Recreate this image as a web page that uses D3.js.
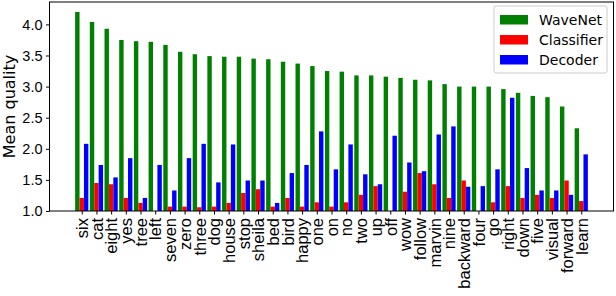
<!DOCTYPE html>
<html>
<head>
<meta charset="utf-8">
<script src="https://cdn.jsdelivr.net/npm/d3@7"></script>
<style>
  body { margin: 0; background: #fff; }
  svg { font-family: "DejaVu Sans", sans-serif; }
</style>
</head>
<body>
<div id="chart"></div>
<script>
// words, sorted by WaveNet quality
var words = ["six", "cat", "eight", "yes", "tree", "left", "seven", "zero", "three", "dog",
  "house", "stop", "sheila", "bed", "bird", "happy", "one", "on", "no", "two",
  "up", "off", "wow", "follow", "marvin", "nine", "backward", "four", "go", "right",
  "down", "five", "visual", "forward", "learn"];

var wavenet = [4.20, 4.04, 3.93, 3.75, 3.73, 3.72, 3.67, 3.56, 3.52, 3.49,
  3.48, 3.48, 3.45, 3.44, 3.40, 3.37, 3.33, 3.25, 3.24, 3.18,
  3.18, 3.16, 3.14, 3.11, 3.10, 3.04, 3.00, 3.00, 3.00, 2.96,
  2.90, 2.85, 2.83, 2.68, 2.33];

var classifier = [1.21, 1.45, 1.43, 1.21, 1.13, 1.00, 1.07, 1.07, 1.06, 1.07,
  1.13, 1.29, 1.35, 1.07, 1.21, 1.07, 1.14, 1.07, 1.14, 1.26,
  1.40, 1.00, 1.31, 1.61, 1.43, 1.21, 1.49, 1.00, 1.14, 1.40,
  1.21, 1.26, 1.21, 1.49, 1.16];

var decoder = [2.08, 1.74, 1.54, 1.85, 1.21, 1.74, 1.33, 1.85, 2.08, 1.46,
  2.07, 1.49, 1.49, 1.13, 1.61, 1.74, 2.28, 1.67, 2.07, 1.59,
  1.43, 2.21, 1.78, 1.64, 2.23, 2.36, 1.39, 1.40, 1.67, 2.82,
  1.69, 1.33, 1.33, 1.26, 1.91];

var yTicks = [1.0, 1.5, 2.0, 2.5, 3.0, 3.5, 4.0];

var seriesNames = ["WaveNet", "Classifier", "Decoder"];
var seriesColors = ["#008000", "#ff0000", "#0000ff"];
var seriesData = [wavenet, classifier, decoder];

(function() {
  var W = 616, H = 296;
  var plotL = 49.5, plotR = 613.5, plotT = 2, plotB = 211;

  var svg = d3.select("#chart").append("svg")
    .attr("width", W)
    .attr("height", H);

  // x is a linear scale on the word index, with matplotlib style margins
  var x = d3.scaleLinear()
    .domain([-2.195, words.length - 1 + 2.195])
    .range([plotL, plotR]);
  var y = d3.scaleLinear()
    .domain([1, 4.36])
    .range([plotB, plotT]);

  var barW = 0.3;

  // bars
  seriesData.forEach(function(vals, s) {
    svg.append("g").selectAll("rect")
      .data(vals)
      .enter()
      .append("rect")
        .attr("x", function(d, i) { return x(i + (s - 1) * barW - barW / 2); })
        .attr("width", x(barW) - x(0))
        .attr("y", function(d) { return y(d); })
        .attr("height", function(d) { return y(1) - y(d); })
        .style("fill", seriesColors[s]);
  });

  // y axis
  var yAxis = svg.append("g")
    .attr("transform", "translate(" + plotL + ",0)")
    .call(d3.axisLeft(y).tickValues(yTicks).tickFormat(d3.format(".1f")).tickSizeOuter(0).tickSize(3.5).tickPadding(3.5));
  yAxis.select(".domain").remove();
  yAxis.selectAll("text")
    .style("font-size", "14.5px")
    .style("fill", "#000");

  // x axis
  var xAxis = svg.append("g")
    .attr("transform", "translate(0," + plotB + ")")
    .call(d3.axisBottom(x).tickValues(d3.range(words.length)).tickFormat(function(i) { return words[i]; }).tickSizeOuter(0).tickSize(3.5));
  xAxis.select(".domain").remove();
  xAxis.selectAll("text")
    .attr("transform", "rotate(-90)")
    .attr("x", -7)
    .attr("y", 0)
    .attr("dy", "0.35em")
    .style("text-anchor", "end")
    .style("font-size", "16.5px")
    .style("fill", "#000");

  // frame
  svg.append("rect")
    .attr("x", plotL)
    .attr("y", plotT)
    .attr("width", plotR - plotL)
    .attr("height", plotB - plotT)
    .style("fill", "none")
    .style("stroke", "#000")
    .style("stroke-width", 1);

  // y label
  svg.append("text")
    .attr("transform", "translate(" + 15 + "," + ((plotT + plotB) / 2) + ")rotate(-90)")
    .attr("text-anchor", "middle")
    .style("font-size", "16px")
    .text("Mean quality");

  // legend
  var lg = svg.append("g").attr("transform", "translate(494,6)");
  lg.append("rect")
    .attr("width", 113)
    .attr("height", 67)
    .attr("rx", 2)
    .style("fill", "#fff")
    .style("fill-opacity", 0.8)
    .style("stroke", "#ccc");
  seriesNames.forEach(function(name, i) {
    lg.append("rect")
      .attr("x", 6)
      .attr("y", 9 + i * 20)
      .attr("width", 28)
      .attr("height", 9.5)
      .style("fill", seriesColors[i]);
    lg.append("text")
      .attr("x", 45)
      .attr("y", 13.8 + i * 20)
      .attr("dy", "0.35em")
      .style("font-size", "14px")
      .text(name);
  });
})();
</script>
</body>
</html>
